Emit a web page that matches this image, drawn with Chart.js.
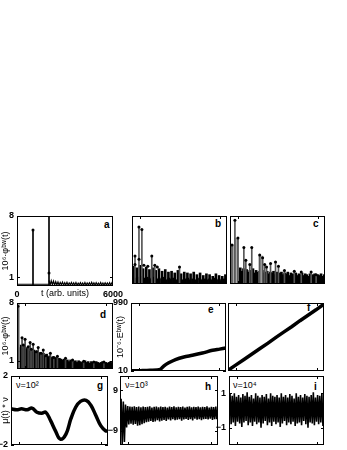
<!DOCTYPE html>
<html>
<head>
<meta charset="utf-8">
<script src="https://cdn.jsdelivr.net/npm/chart.js@4.4.1/dist/chart.umd.min.js"></script>
<style>
  html, body { margin: 0; padding: 0; background: #fff; }
  body { width: 347px; height: 450px; position: relative; overflow: hidden; font-family: "Liberation Sans", Arial, sans-serif; }
  .box { position: absolute; }
  .lab { position: absolute; font-size: 10px; font-weight: bold; line-height: 10px; color: #000; white-space: nowrap; }
  .nu { position: absolute; font-size: 9px; line-height: 9px; color: #000; white-space: nowrap; }
</style>
</head>
<body>
<div class="lab" style="left:104px;top:220px">a</div>
<div class="lab" style="left:215px;top:219px">b</div>
<div class="lab" style="left:313px;top:219px">c</div>
<div class="lab" style="left:100px;top:310px">d</div>
<div class="lab" style="left:208px;top:305px">e</div>
<div class="lab" style="left:307px;top:303px">f</div>
<div class="lab" style="left:97px;top:381px">g</div>
<div class="lab" style="left:205px;top:382px">h</div>
<div class="lab" style="left:314px;top:382px">i</div>
<div class="nu" style="left:16px;top:381px">ν=10²</div>
<div class="nu" style="left:125px;top:381px">ν=10³</div>
<div class="nu" style="left:233px;top:381px">ν=10⁴</div>
<script>
// ---- data ----
// a: single-trajectory phi(t)
const aStemT = [1000, 2000];
const aStemV = [6.4, 9];
const aMarkT = [1000, 2000];
const aMarkV = [6.4, 1.5];
const aBaseV = [0.2, 0.2];
const aNoise = [0.65, 0.1, 0.6, 0.15, 0.55, 0.1, 0.5, 0.12, 0.45, 0.1, 0.4, 0.15, 0.45, 0.1, 0.38, 0.12,
  0.42, 0.1, 0.35, 0.15, 0.4, 0.1, 0.36, 0.12, 0.4, 0.1, 0.33, 0.14, 0.38, 0.1, 0.35, 0.12, 0.4, 0.1,
  0.34, 0.13, 0.37, 0.1, 0.42, 0.12, 0.36, 0.1, 0.38, 0.14, 0.33, 0.1, 0.4, 0.12, 0.35, 0.1, 0.37, 0.13,
  0.34, 0.1, 0.38, 0.12, 0.36, 0.1];

// b
const bStemT = [190, 440, 625, 1250, 1440, 3000];
const bStemV = [3.3, 6.7, 6.4, 3.3, 2.2, 2.0];
const bMarkT = [190, 190, 440, 440, 625, 750, 1000, 1250, 1440, 1600, 3000];
const bMarkV = [3.3, 2.3, 6.7, 2.9, 6.4, 2.2, 2.1, 3.3, 2.2, 2.0, 2.0];
const bBarV = [2.1, 1.9, 2.2, 1.8, 2.0, 1.7, 1.9, 1.6, 1.8, 1.5, 1.7, 1.4, 1.5, 1.3, 1.6,
  1.2, 1.4, 1.3, 1.2, 1.4, 1.1, 1.3, 1.0, 1.2, 1.1, 0.9, 1.2, 1.0, 0.9, 1.1];
const bBase = [0.9, 0.7, 0.8, 0.6, 0.9, 0.7, 0.8, 0.6, 0.7, 0.8, 0.6, 0.7, 0.6, 0.8, 0.5, 0.7, 0.6, 0.7, 0.5, 0.6,
  0.7, 0.5, 0.6, 0.7, 0.5, 0.6, 0.5, 0.7, 0.6, 0.5, 0.6, 0.5, 0.6, 0.5, 0.7, 0.5, 0.6, 0.5, 0.6, 0.5];

// c
const cStemT = [125, 310, 500, 875, 1000, 1250, 1375, 1875, 2060, 2190, 2310, 2560, 2875, 3060, 3440, 4060, 4500, 5125, 5440];
const cStemV = [4.6, 7.5, 5.4, 4.3, 2.8, 2.3, 4.3, 3.4, 3.1, 2.3, 2.0, 2.4, 2.6, 2.1, 1.6, 1.5, 1.4, 1.4, 1.1];
const cGrayT = [200, 420, 1950];
const cGrayV = [4.6, 5.4, 3.3];
const cDense = [2.0, 1.8, 2.2, 1.6, 2.0, 1.7, 1.9, 1.5, 1.8, 1.6, 1.7, 1.4, 1.6, 1.5, 1.8, 1.3, 1.6, 1.4, 1.5, 1.2,
  1.6, 1.3, 1.4, 1.5, 1.2, 1.4, 1.3, 1.5, 1.1, 1.4, 1.2, 1.3, 1.4, 1.1, 1.3, 1.2, 1.4, 1.0, 1.3, 1.2,
  1.1, 1.3, 1.0, 1.2, 1.1, 1.3, 1.0, 1.2, 1.1, 0.9, 1.2, 1.0, 1.1, 1.2, 0.9, 1.1, 1.0, 1.2, 0.9, 1.1];

// d: averaged phi(t)
const dMarkT = [60, 316, 400, 505, 700, 821, 900, 1011, 1200, 1326, 1500, 1642, 1800, 2084, 2300, 2526, 3032, 3474, 4168, 4800, 5432];
const dMarkV = [7.6, 3.8, 2.9, 3.6, 2.7, 3.2, 2.4, 3.0, 2.1, 2.6, 1.9, 2.3, 1.6, 1.9, 1.4, 1.55, 1.3, 1.1, 0.95, 0.85, 0.85];
const dDense = [3.0, 2.6, 2.9, 2.5, 2.8, 2.4, 2.6, 2.2, 2.5, 2.1, 2.3, 2.0, 2.2, 1.9, 2.0, 1.8, 1.9, 1.6, 1.8, 1.5,
  1.6, 1.4, 1.5, 1.3, 1.4, 1.2, 1.3, 1.2, 1.1, 1.2, 1.0, 1.1, 0.9, 1.1, 1.0, 0.9, 1.0, 0.8, 1.0, 0.9,
  0.8, 0.9, 1.0, 0.8, 0.9, 0.7, 0.9, 0.8, 0.7, 0.9, 0.8, 0.7, 0.8, 0.9, 0.7, 0.8, 0.7, 0.8, 0.9, 0.7];

// e, f: E(t)
const eT = [0, 600, 1200, 1850, 2064, 2383, 2809, 3340, 3877, 4511, 5149, 5600, 6000];
const eV = [12, 15, 20, 34, 81, 128, 175, 212, 236, 269, 308, 325, 341];
const fT = [0, 500, 1000, 1500, 2000, 2500, 3000, 3500, 4000, 4500, 5000, 5500, 6000];
const fV = [10, 90, 170, 250, 330, 410, 495, 575, 655, 740, 820, 900, 985];

// g, h, i: mu(t)*nu
const gT = [0, 350, 650, 1000, 1300, 1600, 1900, 2150, 2450, 2750, 3050, 3400, 3700, 4000, 4300, 4650, 4950, 5250, 5550, 5850, 6000];
const gV = [0.10, 0.04, 0.10, 0.04, 0.14, -0.10, -0.16, -0.10, -0.59, -1.18, -1.66, -1.37, -0.49, 0.19, 0.53, 0.59, 0.29, -0.29, -0.88, -1.18, -1.18];
const hV = [0, 5.2, -15, 4.0, -14, 2.6, -7.5, 2.0, -6.2, 1.8, -5.9, 1.6, -6.3, 1.9, -6.0, 1.5, -6.7, 1.7, -6.5, 1.4,
  -6.1, 1.8, -5.6, 1.5, -5.2, 1.6, -5.0, 1.9, -4.6, 1.3, -5.1, 1.6, -4.8, 1.7, -4.3, 1.4, -4.9, 1.8, -4.5, 1.5,
  -4.2, 1.6, -4.6, 1.3, -4.0, 1.7, -4.4, 1.5, -3.9, 1.9, -4.3, 1.4, -4.1, 1.6, -3.8, 1.5, -4.5, 1.7, -4.0, 1.3,
  -3.7, 1.6, -4.2, 1.8, -3.9, 1.4, -4.4, 1.6, -3.6, 1.5, -4.1, 1.7, -3.8, 1.4, -4.3, 1.6, -3.9, 1.5, -3.7, 1.8,
  -4.0, 1.3, -3.6, 1.6, -4.2, 1.5, -3.8, 1.7, -3.9, 1.4];
const iV = [0.2, 0.95, -0.8, 0.85, -0.7, 1.0, -0.9, 0.8, -0.65, 0.9, -0.75, 0.75, -0.95, 0.95, -0.7, 0.85, -0.6, 1.05, -0.85, 0.8,
  -0.7, 0.9, -0.9, 0.7, -0.65, 1.0, -0.8, 0.85, -0.7, 0.75, -1.0, 0.9, -0.75, 0.8, -0.6, 0.95, -0.85, 0.7, -0.7, 1.0,
  -0.9, 0.85, -0.65, 0.8, -0.8, 0.9, -0.7, 0.75, -0.95, 1.0, -0.75, 0.8, -0.6, 0.9, -0.85, 0.75, -0.7, 0.95, -0.8, 0.85,
  -0.65, 0.7, -0.9, 1.0, -0.75, 0.8, -0.7, 0.9, -0.85, 0.75, -0.6, 0.95, -0.8, 0.85, -1.0, 0.8, -0.7, 0.9, -0.75, 1.05,
  -0.85, 0.75, -0.65, 0.9, -0.8, 0.85, -0.7, 1.0, -0.9, 0.8];

// evenly spaced sample times for the dense records
const times = (n, t0, t1) => Array.from({ length: n }, (_, i) => t0 + i * (t1 - t0) / (n - 1));
const pts = (ts, vs) => vs.map((v, i) => ({ x: ts[i], y: v }));

const stems = (ts, vs, color, thick) => ({
  type: 'bar', data: pts(ts, vs), backgroundColor: color, barThickness: thick, grouped: false, borderWidth: 0
});
const dots = (ts, vs) => ({
  type: 'line', data: pts(ts, vs), showLine: false, pointRadius: 1.5, pointBackgroundColor: '#000', pointBorderWidth: 0
});
const curve = (ts, vs, w, tension) => ({
  type: 'line', data: pts(ts, vs), borderColor: '#000', borderWidth: w, pointRadius: 0, tension: tension || 0, fill: false
});

Chart.defaults.font.family = '"Liberation Sans", Arial, sans-serif';
Chart.defaults.font.size = 9;
Chart.defaults.color = '#000';

// box round the plot area plus small inward ticks
const framePlugin = {
  id: 'frame',
  afterDatasetsDraw(chart, args, opts) {
    const { ctx, chartArea: a, scales: { x, y } } = chart;
    ctx.save();
    ctx.strokeStyle = '#000';
    ctx.lineWidth = 1;
    ctx.strokeRect(a.left + 0.5, a.top + 0.5, a.right - a.left - 1, a.bottom - a.top - 1);
    ctx.beginPath();
    (opts.xt || []).forEach(v => {
      const px = Math.round(x.getPixelForValue(v)) + 0.5;
      ctx.moveTo(px, a.top); ctx.lineTo(px, a.top + 3);
      ctx.moveTo(px, a.bottom); ctx.lineTo(px, a.bottom - 3);
    });
    (opts.yt || []).forEach(v => {
      const py = Math.round(y.getPixelForValue(v)) + 0.5;
      ctx.moveTo(a.left, py); ctx.lineTo(a.left + 3, py);
      ctx.moveTo(a.right, py); ctx.lineTo(a.right - 3, py);
    });
    ctx.stroke();
    ctx.restore();
  }
};

const minus = v => String(v).replace('-', '\u2212');
const EDGE = [500, 5550];

function panel(p) {
  const T = 6, R = 14, L = p.L, B = p.B || 2;
  const W = p.w + L + R, H = p.h + T + B;
  const wrap = document.createElement('div');
  wrap.className = 'box';
  wrap.style.cssText = `left:${p.x - L}px;top:${p.y - T}px;width:${W}px;height:${H}px`;
  const cv = document.createElement('canvas');
  cv.width = W; cv.height = H;
  wrap.appendChild(cv);
  document.body.appendChild(wrap);

  new Chart(cv, {
    type: 'bar',
    data: { datasets: p.ds },
    options: {
      responsive: false, animation: false, devicePixelRatio: 1,
      layout: { padding: { left: 0, top: T, right: R, bottom: 0 } },
      plugins: { legend: { display: false }, tooltip: { enabled: false }, frame: { xt: p.xt || EDGE, yt: p.yt || [] } },
      scales: {
        x: {
          type: 'linear', min: 0, max: 6000, offset: false,
          grid: { display: false, drawTicks: false }, border: { display: false },
          ticks: { display: !!p.xlab, font: { weight: 'bold' }, maxRotation: 0, autoSkip: false, padding: 3, callback: v => String(v) },
          afterBuildTicks: s => { s.ticks = [{ value: 0 }, { value: 6000 }]; },
          title: { display: !!p.xlab, text: p.xlab || '', padding: 0, font: { size: 9 } },
          afterFit: s => { s.height = B; s.paddingLeft = 0; s.paddingRight = 0; }
        },
        y: {
          type: 'linear', min: p.ymin, max: p.ymax,
          grid: { display: false, drawTicks: false }, border: { display: false },
          ticks: { display: !!p.yt, font: { weight: 'bold' }, autoSkip: false, padding: p.tp || 3, callback: minus },
          afterBuildTicks: s => { s.ticks = (p.yt || []).map(v => ({ value: v })); },
          title: { display: !!p.ylab, text: p.ylab || '', padding: { top: p.yp || 0, bottom: 0 }, font: { size: 9 } },
          afterFit: s => { s.width = L; s.paddingTop = 0; s.paddingBottom = 0; }
        }
      }
    },
    plugins: [framePlugin]
  });
}

panel({ x: 17, y: 216, w: 96, h: 70, L: 17, B: 13, ymin: 0, ymax: 8, yt: [1, 8], xt: [],
  ylab: '10⁶·φᵇʷ(t)', xlab: 't (arb. units)',
  ds: [dots(aMarkT, aMarkV), stems(aStemT, aStemV, '#000', 1),
       curve(times(aNoise.length, 2000, 6000), aNoise, 1.2), curve([0, 2000], aBaseV, 1)] });

panel({ x: 130, y: 216, w: 97, h: 70, L: 2, ymin: 0, ymax: 8,
  ds: [dots(bMarkT, bMarkV), stems(bStemT, bStemV, '#555', 1),
       stems(times(bBarV.length, 100, 5900), bBarV, '#000', 2),
       stems(times(bBase.length, 50, 5950), bBase, '#000', 2)] });

panel({ x: 228, y: 216, w: 97, h: 70, L: 2, ymin: 0, ymax: 8,
  ds: [dots(cStemT, cStemV), stems(cStemT, cStemV, '#555', 1), stems(cGrayT, cGrayV, '#aaa', 4),
       stems(times(cDense.length, 50, 5950), cDense, '#000', 2)] });

panel({ x: 17, y: 303, w: 96, h: 68, L: 17, ymin: 0, ymax: 8, yt: [1, 8], ylab: '10⁶·φᵇʷ(t)',
  ds: [dots(dMarkT, dMarkV), stems(dMarkT, dMarkV, '#444', 1), stems([60], [7.9], '#999', 3),
       stems(times(dDense.length, 50, 5950), dDense, '#000', 2)] });

panel({ x: 131, y: 303, w: 95, h: 68, L: 20, yp: 4, ymin: 10, ymax: 990, yt: [10, 990], ylab: '10⁻⁶·Eᵇʷ(t)',
  ds: [curve(eT, eV, 3.5, 0.3)] });

panel({ x: 228, y: 303, w: 96, h: 68, L: 2, ymin: 0, ymax: 1000,
  ds: [curve(fT, fV, 3.5, 0)] });

panel({ x: 11, y: 376, w: 97, h: 69, L: 11, ymin: -2, ymax: 2, yt: [-2, 2], ylab: 'μ(t) * ν',
  ds: [curve(gT, gV, 3.5, 0.4)] });

panel({ x: 120, y: 376, w: 98, h: 69, L: 14, tp: 2, ymin: -15.3, ymax: 15.3, yt: [-9, 9],
  ds: [curve(times(hV.length, 0, 6000), hV, 1.6, 0)] });

panel({ x: 229, y: 376, w: 95, h: 69, L: 14, ymin: -2, ymax: 2, yt: [-1, 1],
  ds: [curve(times(iV.length, 0, 6000), iV, 1.6, 0)] });
</script>
</body>
</html>
